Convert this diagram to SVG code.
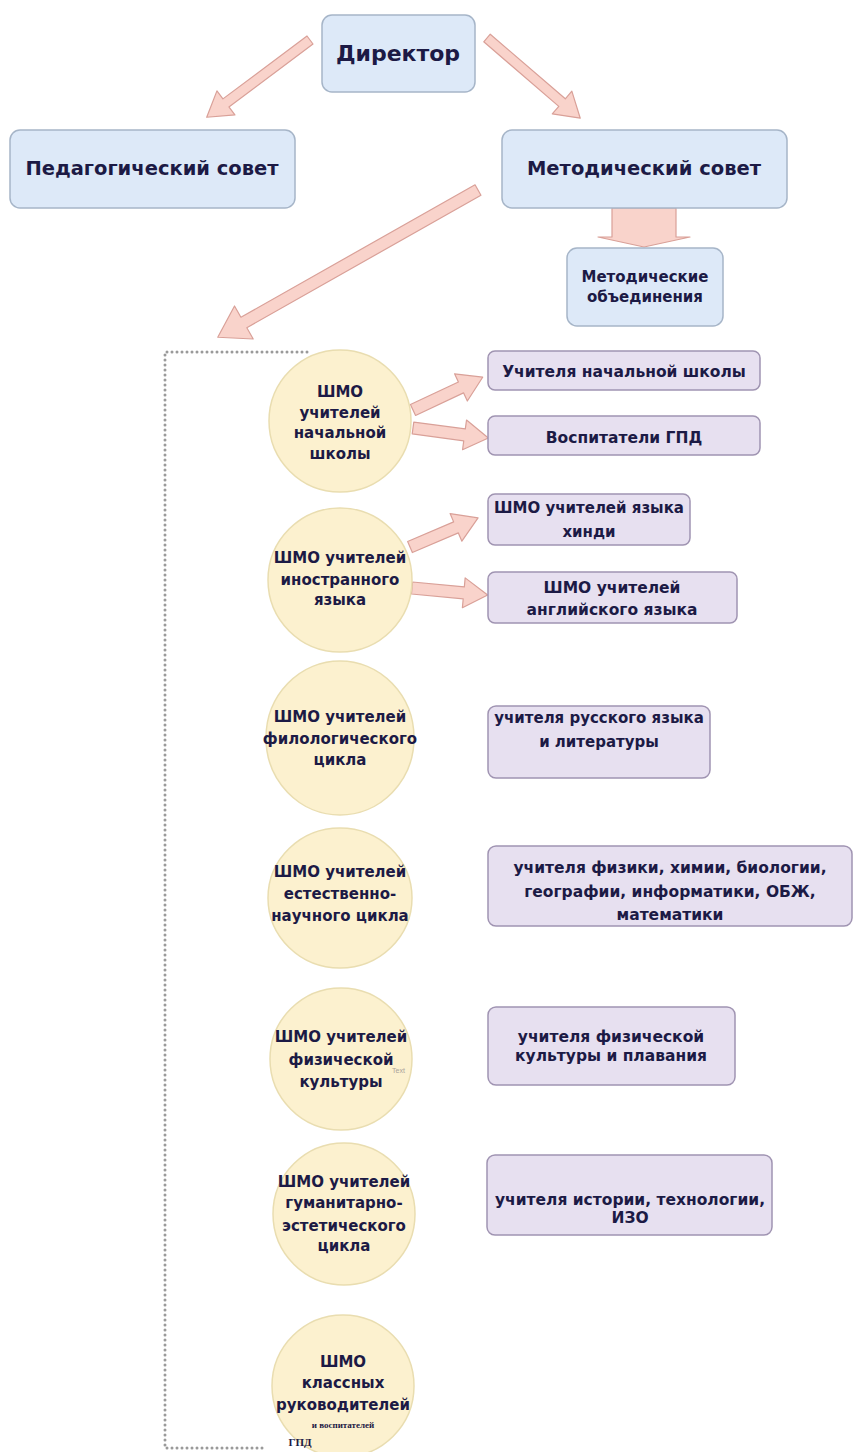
<svg xmlns="http://www.w3.org/2000/svg" width="861" height="1452" viewBox="0 0 861 1452">
<style>
.arr{fill:#f9d3cb;stroke:#d9a098;stroke-width:1.2;stroke-linejoin:round}
.blue{fill:#dde9f8;stroke:#a6b5c8;stroke-width:1.5}
.purp{fill:#e7e0f0;stroke:#a094b2;stroke-width:1.5}
.circ{fill:#fcf1cf;stroke:#e9ddb0;stroke-width:1.5}
.t{font-family:"DejaVu Sans","Liberation Sans",sans-serif;font-weight:bold;fill:#1c1a45;text-anchor:middle}
.s15{font-size:15px}
.b15{font-size:15.5px}
.s14{font-size:14px}
.frame{fill:none;stroke:#9a9a9a;stroke-width:3;stroke-dasharray:0 5;stroke-linecap:round}
</style>
<rect width="861" height="1452" fill="#ffffff"/>
<g id="connectors">
<path class="arr" transform="translate(310,40) rotate(143.2)" d="M0,-5 H105 V-15 L129,0 L105,15 V5 H0 Z"/>
<path class="arr" transform="translate(487,38) rotate(40.7)" d="M0,-5 H99 V-15 L123,0 L99,15 V5 H0 Z"/>
<path class="arr" transform="translate(478,190) rotate(150.5)" d="M0,-6 H269 V-19 L299,0 L269,19 V6 H0 Z"/>
<path class="arr" transform="translate(644,208) rotate(90)" d="M0,-32 H29 V-46 L39,0 L29,46 V32 H0 Z"/>
<path class="arr" transform="translate(413,410) rotate(-25.2)" d="M0,-6 H53 V-15 L77,0 L53,15 V6 H0 Z"/>
<path class="arr" transform="translate(413,428) rotate(7.6)" d="M0,-6 H52 V-15 L76,0 L52,15 V6 H0 Z"/>
<path class="arr" transform="translate(410,547) rotate(-23.1)" d="M0,-6 H50 V-15 L74,0 L50,15 V6 H0 Z"/>
<path class="arr" transform="translate(412,588) rotate(5.3)" d="M0,-6 H52 V-15 L76,0 L52,15 V6 H0 Z"/>
<path class="frame" d="M307,352 H165 V1448 H266"/>
</g>
<g id="director"><rect class="blue" x="322" y="15" width="153" height="77" rx="10"/><text class="t" x="398" y="61" font-size="22">Директор</text></g>
<g id="ped"><rect class="blue" x="10" y="130" width="285" height="78" rx="10"/><text class="t" x="152" y="175" font-size="19.5">Педагогический совет</text></g>
<g id="met"><rect class="blue" x="502" y="130" width="285" height="78" rx="10"/><text class="t" x="644" y="175" font-size="19.5">Методический совет</text></g>
<g id="mo"><rect class="blue" x="567" y="248" width="156" height="78" rx="10"/><text class="t s15" x="645" y="282">Методические</text><text class="t s15" x="645" y="302">объединения</text></g>

<g id="c1"><circle class="circ" cx="340" cy="421" r="71"/><text class="t s15" x="340" y="397">ШМО</text><text class="t s15" x="340" y="418">учителей</text><text class="t s15" x="340" y="438">начальной</text><text class="t s15" x="340" y="459">школы</text></g>
<g id="c2"><circle class="circ" cx="340" cy="580" r="72"/><text class="t s15" x="340" y="563">ШМО учителей</text><text class="t s15" x="340" y="585">иностранного</text><text class="t s15" x="340" y="605">языка</text></g>
<g id="c3"><ellipse class="circ" cx="340" cy="738" rx="74" ry="77"/><text class="t s15" x="340" y="722">ШМО учителей</text><text class="t s15" x="340" y="744">филологического</text><text class="t s15" x="340" y="765">цикла</text></g>
<g id="c4"><ellipse class="circ" cx="340" cy="898" rx="72" ry="70"/><text class="t s15" x="340" y="877">ШМО учителей</text><text class="t s15" x="340" y="899">естественно-</text><text class="t s15" x="340" y="921">научного цикла</text></g>
<g id="c5"><circle class="circ" cx="341" cy="1059" r="71"/><text class="t s15" x="341" y="1042">ШМО учителей</text><text class="t s15" x="341" y="1065">физической</text><text class="t s15" x="341" y="1087">культуры</text><text x="392" y="1073" font-family="Liberation Sans, sans-serif" font-size="7" fill="#a9a39a">Text</text></g>
<g id="c6"><circle class="circ" cx="344" cy="1214" r="71"/><text class="t s15" x="344" y="1187">ШМО учителей</text><text class="t s15" x="344" y="1208">гуманитарно-</text><text class="t s15" x="344" y="1231">эстетического</text><text class="t s15" x="344" y="1251">цикла</text></g>
<g id="c7"><circle class="circ" cx="343" cy="1386" r="71"/><text class="t s15" x="343" y="1367">ШМО</text><text class="t s15" x="343" y="1388">классных</text><text class="t s15" x="343" y="1410">руководителей</text><text x="343" y="1428" font-family="Liberation Serif, serif" font-weight="bold" font-size="9" fill="#1c1a45" text-anchor="middle">и воспитателей</text><text x="300" y="1446" font-family="Liberation Serif, serif" font-weight="bold" font-size="11" fill="#1c1a45" text-anchor="middle">ГПД</text></g>

<g id="r1"><rect class="purp" x="488" y="351" width="272" height="39" rx="7"/><text class="t b15" x="624" y="377">Учителя начальной школы</text></g>
<g id="r2"><rect class="purp" x="488" y="416" width="272" height="39" rx="7"/><text class="t b15" x="624" y="443">Воспитатели ГПД</text></g>
<g id="r3"><rect class="purp" x="488" y="494" width="202" height="51" rx="7"/><text class="t s15" x="589" y="513">ШМО учителей языка</text><text class="t s15" x="589" y="537">хинди</text></g>
<g id="r4"><rect class="purp" x="488" y="572" width="249" height="51" rx="7"/><text class="t b15" x="612" y="593">ШМО учителей</text><text class="t b15" x="612" y="615">английского языка</text></g>
<g id="r5"><rect class="purp" x="488" y="706" width="222" height="72" rx="8"/><text class="t s15" x="599" y="723">учителя русского языка</text><text class="t s15" x="599" y="747">и литературы</text></g>
<g id="r6"><rect class="purp" x="488" y="846" width="364" height="80" rx="8"/><text class="t b15" x="670" y="873">учителя физики, химии, биологии,</text><text class="t b15" x="670" y="897">географии, информатики, ОБЖ,</text><text class="t b15" x="670" y="920">математики</text></g>
<g id="r7"><rect class="purp" x="488" y="1007" width="247" height="78" rx="8"/><text class="t b15" x="611" y="1042">учителя физической</text><text class="t b15" x="611" y="1061">культуры и плавания</text></g>
<g id="r8"><rect class="purp" x="487" y="1155" width="285" height="80" rx="8"/><text class="t b15" x="630" y="1205">учителя истории, технологии,</text><text class="t b15" x="630" y="1223">ИЗО</text></g>
</svg>
